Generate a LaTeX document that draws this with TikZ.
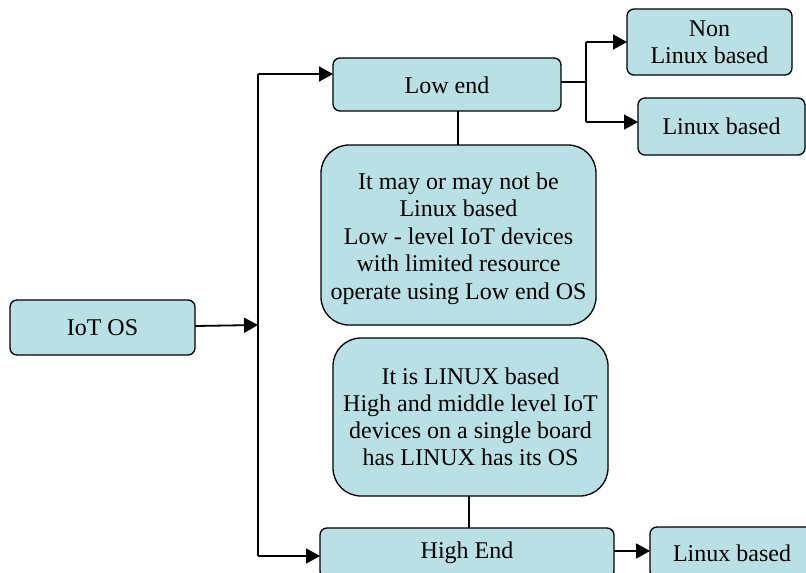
\documentclass[tikz,border=0pt]{standalone}
\usepackage{fontspec}
\setmainfont{Liberation Serif}
\usetikzlibrary{arrows.meta}
\definecolor{boxfill}{RGB}{185,224,228}
\tikzset{
  box/.style={draw=black, line width=1.3pt, fill=boxfill, rounded corners=7pt},
  bigbox/.style={draw=black, line width=1.3pt, fill=boxfill, rounded corners=28pt},
  lbl/.style={font=\fontsize{24}{27}\selectfont, align=center},
  arr/.style={line width=1.8pt, -{Triangle[length=14pt,width=15pt]}},
  conn/.style={line width=1.8pt},
  thin/.style={line width=1.2pt}
}
\begin{document}
\begin{tikzpicture}[x=1pt,y=-1pt]
\useasboundingbox (0,0) rectangle (806,573);
% boxes
\draw[box] (10,300) rectangle (195,355);
\node[lbl] (iot) at (102.5,327.5) {IoT OS};
\coordinate (iotE) at (195,326);
\draw[box] (333,58) rectangle (561,111);
\node[lbl] (low) at (447,85) {Low end};
\draw[box] (627,9) rectangle (792,75);
\node[lbl] (non) at (709.5,42) {Non\\Linux based};
\draw[box] (638,98) rectangle (805,155);
\node[lbl] (lb1) at (721.5,126.5) {Linux based};
\draw[bigbox] (321,145) rectangle (596,325);
\node[lbl, font=\fontsize{24}{27.5}\selectfont] (d1) at (458.5,238.5) {It may or may not be\\Linux based\\Low - level IoT devices\\with limited resource\\operate using Low end OS};
\draw[bigbox] (333,338) rectangle (608,496);
\node[lbl] (d2) at (470.5,417) {It is LINUX based\\High and middle level IoT\\devices on a single board\\has LINUX has its OS};
\draw[box] (320,528) rectangle (614,578);
\node[lbl] (high) at (467,553) {High End};
\draw[box] (650,527) rectangle (814,578);
\node[lbl] (lb2) at (732,553) {Linux based};
% coordinates
\coordinate (jm) at (258,325);
\coordinate (jt) at (258,74);
\coordinate (jb) at (258,556);
\coordinate (lowW) at (333,74);
\coordinate (highW) at (320,556);
\coordinate (lowE) at (561,82);
\coordinate (sp) at (586,82);
\coordinate (spt) at (586,42);
\coordinate (spb) at (586,122);
\coordinate (nonW) at (627,42);
\coordinate (lb1W) at (638,122);
\coordinate (lowS) at (458,111);
\coordinate (d1N) at (458,145);
\coordinate (d2S) at (469,496);
\coordinate (highN) at (469,528);
\coordinate (highE) at (614,551);
\coordinate (lb2W) at (650,551);
% connectors
\draw[arr] (iotE) -- (jm);
\draw[conn] (jt) -- (jb);
\draw[arr] (jt) -- (lowW);
\draw[arr] (jb) -- (highW);
\draw[thin] (lowE) -- (sp);
\draw[conn] (spt) -- (spb);
\draw[arr] (spt) -- (nonW);
\draw[arr] (spb) -- (lb1W);
\draw[thin] (lowS) -- (d1N);
\draw[thin] (d2S) -- (highN);
\draw[arr] (highE) -- (lb2W);
\end{tikzpicture}
\end{document}
